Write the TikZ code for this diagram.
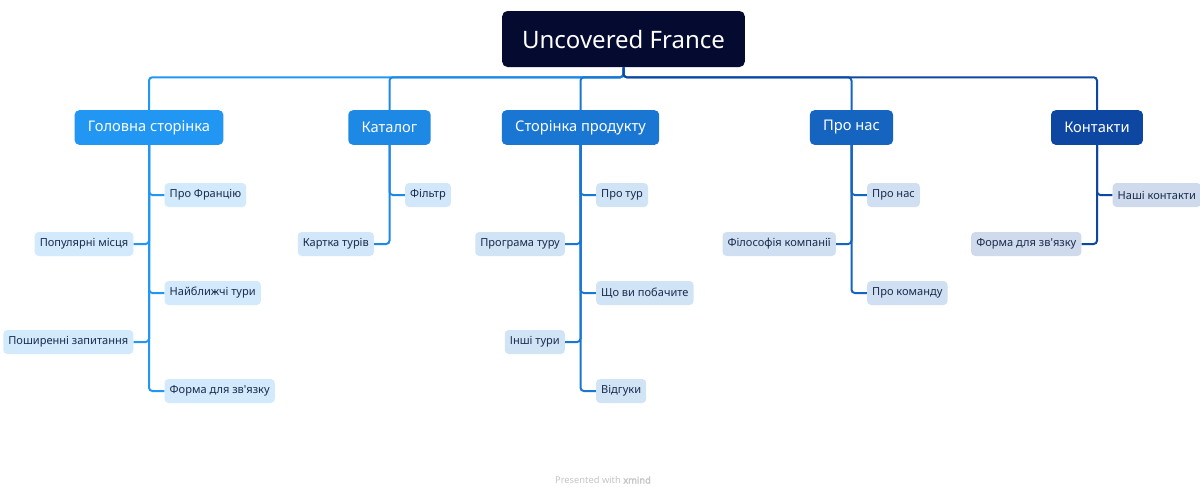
\documentclass[tikz,border=0pt]{standalone}
\usepackage{fontspec}
\defaultfontfeatures[\rmfamily]{}
\setmainfont{Noto Sans}
\newfontfamily\markfont{Noto Sans}[FakeBold=2]
\usetikzlibrary{positioning}
\definecolor{rootcol}{HTML}{050A30}
\definecolor{homecol}{HTML}{2196F3}
\definecolor{catcol}{HTML}{1E88E5}
\definecolor{prodcol}{HTML}{1976D2}
\definecolor{aboutcol}{HTML}{1565C0}
\definecolor{contcol}{HTML}{0D47A1}
\definecolor{leaftext}{HTML}{1A2B4C}
\newcommand\apos{\char39\relax}
\tikzset{
  rootbox/.style={fill=rootcol,rounded corners=4pt,text=white,font=\fontsize{18}{18}\selectfont,minimum width=182pt,minimum height=42pt},
  secbox/.style={fill=#1,rounded corners=3.5pt,text=white,font=\fontsize{11}{11}\selectfont,minimum height=26pt,inner xsep=10pt},
  leafbox/.style={fill=#1!20,rounded corners=3pt,text=leaftext,font=\fontsize{8.3}{9}\selectfont,minimum height=18pt,inner xsep=3.8pt},
  branch/.style={draw=#1,line width=1.5pt,rounded corners=2.5pt},
  watermark/.style={font=\fontsize{7}{7}\selectfont,text=gray!45}
}
\begin{document}
\begin{tikzpicture}[x=0.75pt,y=-0.75pt]
  \useasboundingbox[fill=white] (0,0) rectangle (1200,486);
  \node[rootbox] (root) at (623.5,39) {Uncovered France};

  \foreach \n/\c/\x/\t in {home/homecol/149/Головна сторінка,cat/catcol/389.5/Каталог,prod/prodcol/580.5/Сторінка продукту,about/aboutcol/851.5/Про нас,cont/contcol/1097/Контакти}
    \node[secbox=\c] (\n) at (\x,127.5) {\t};
  \foreach \n/\c in {home/homecol,cat/catcol,prod/prodcol,about/aboutcol,cont/contcol}
    \draw[branch=\c] (root.south) -- ++(0,10) -| (\n.north);

  % leaves right of the trunk
  \foreach \n/\p/\c/\y/\t in {h1/home/homecol/195/Про Францію,h3/home/homecol/293/Найближчі тури,h5/home/homecol/391/Форма для зв\apos язку,
      c1/cat/catcol/195/Фільтр,
      p1/prod/prodcol/195/Про тур,p3/prod/prodcol/293/Що ви побачите,p5/prod/prodcol/391/Відгуки,
      a1/about/aboutcol/195/Про нас,a3/about/aboutcol/293/Про команду,
      k1/cont/contcol/195/Наші контакти}{
    \node[leafbox=\c,anchor=west,xshift=11.5pt] (\n) at (\p.south |- 0,\y) {\t};
    \draw[branch=\c] (\p.south) |- (\n.west);
  }
  % leaves left of the trunk
  \foreach \n/\p/\c/\y/\t in {h2/home/homecol/244/Популярні місця,h4/home/homecol/342/Поширенні запитання,
      c2/cat/catcol/244/Картка турів,
      p2/prod/prodcol/244/Програма туру,p4/prod/prodcol/342/Інші тури,
      a2/about/aboutcol/244/Філософія компанії,
      k2/cont/contcol/244/Форма для зв\apos язку}{
    \node[leafbox=\c,anchor=east,xshift=-11.5pt] (\n) at (\p.south |- 0,\y) {\t};
    \draw[branch=\c] (\p.south) |- (\n.east);
  }

  \node[watermark] (mark) at (603,480) {Presented with {\markfont xmind}};
\end{tikzpicture}
\end{document}
